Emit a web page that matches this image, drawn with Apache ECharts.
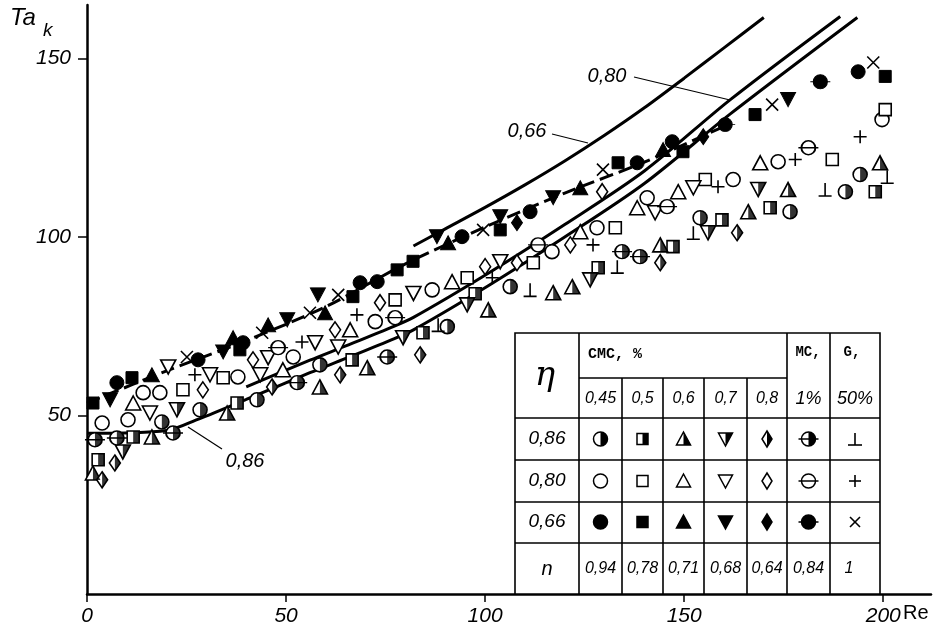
<!DOCTYPE html>
<html>
<head>
<meta charset="utf-8">
<script src="https://cdn.jsdelivr.net/npm/echarts@6/dist/echarts.min.js"></script>
<style>
  html, body { margin: 0; padding: 0; background: #fff; }
  #main { width: 940px; height: 633px; }
</style>
</head>
<body>
<div id="main"></div>
<script>
// axis ticks
var xTicks = [0, 50, 100, 150, 200]
var yTicks = [50, 100, 150]

// eta = 0,66 (filled symbols)
var d66Circle = [[7.5, 59.2], [27.9, 65.6], [39.2, 70.4], [68.6, 87.2], [72.9, 87.5], [94.2, 100.1], [111.3, 107.1], [138.2, 120.8], [147.0, 126.7], [193.7, 146.3]]
var d66Square = [[1.5, 53.5], [11.3, 60.6], [38.4, 68.4], [66.8, 83.3], [77.9, 90.8], [81.9, 93.2], [103.8, 102.0], [133.4, 120.8], [149.7, 123.9], [167.8, 134.3], [200.5, 145.0]]
var d66Tri = [[16.3, 61.4], [36.7, 71.8], [45.5, 75.4], [59.8, 78.8], [90.7, 98.4], [123.9, 113.8], [144.7, 124.5]]
var d66DTri = [[5.8, 54.4], [34.2, 67.8], [50.3, 76.8], [58.0, 83.8], [87.9, 100.1], [103.8, 105.7], [117.1, 111.0], [176.1, 138.5]]
var d66Diam = [[108.0, 104.0], [154.8, 128.1]]
var d66MC = [[160.3, 131.5], [184.2, 143.5]]
var d66G = [[25.1, 66.4], [44.0, 73.2], [56.0, 78.8], [63.1, 83.8], [99.5, 102.0], [129.6, 118.9], [172.1, 137.1], [197.5, 148.9]]

// eta = 0,80 (open symbols)
var d80Circle = [[3.8, 47.9], [10.3, 48.8], [14.1, 56.4], [18.3, 56.4], [37.9, 60.8], [51.8, 66.4], [72.4, 76.3], [86.7, 85.2], [116.8, 95.9], [128.1, 102.6], [140.7, 111.0], [162.3, 116.1], [173.6, 121.1], [199.7, 132.9]]
var d80Square = [[24.1, 57.2], [34.2, 60.6], [77.4, 82.4], [95.5, 88.6], [112.1, 92.8], [132.7, 102.6], [155.3, 116.1], [187.2, 121.7], [200.5, 135.7]]
var d80Tri = [[11.6, 53.5], [49.2, 62.8], [66.1, 74.0], [91.7, 87.5], [123.9, 101.5], [138.2, 108.2], [148.5, 112.7], [169.1, 120.8]]
var d80DTri = [[15.8, 50.7], [20.4, 63.6], [30.9, 61.4], [43.5, 61.4], [45.5, 66.2], [57.3, 70.4], [63.1, 69.2], [82.0, 84.2], [103.8, 93.1], [142.7, 106.8], [152.3, 113.8]]
var d80Diam = [[29.1, 57.2], [41.7, 65.6], [62.3, 74.0], [73.6, 81.6], [100.0, 91.7], [108.0, 92.8], [121.4, 97.8], [129.4, 112.7]]
var d80MC = [[48.0, 69.0], [77.4, 77.4], [113.3, 97.8], [145.7, 108.5], [181.2, 125.0]]
var d80G = [[27.1, 61.4], [54.0, 70.6], [67.8, 78.2], [101.8, 88.6], [127.1, 97.8], [158.5, 114.1], [177.9, 121.7], [194.2, 128.1]]

// eta = 0,86 (half filled symbols)
var d86Circle = [[18.8, 48.2], [28.4, 51.6], [42.7, 54.4], [58.5, 64.2], [90.5, 74.9], [106.3, 86.1], [154.0, 105.4], [176.6, 107.1], [190.5, 112.7], [194.2, 117.5]]
var d86Square = [[2.8, 37.6], [11.6, 44.0], [37.7, 53.5], [66.6, 65.6], [84.4, 73.2], [97.5, 84.1], [128.4, 91.4], [147.2, 97.3], [159.5, 104.8], [171.6, 108.2], [198.0, 112.7]]
var d86Tri = [[1.5, 33.9], [16.3, 44.0], [35.2, 50.7], [58.5, 58.0], [70.4, 63.4], [100.8, 79.6], [117.1, 84.4], [121.9, 86.1], [144.0, 97.8], [166.1, 107.1], [176.1, 113.3], [199.2, 120.8]]
var d86DTri = [[9.0, 39.8], [22.6, 51.6], [79.4, 71.8], [95.5, 81.0], [126.4, 88.0], [156.0, 101.2], [168.6, 113.3]]
var d86Diam = [[3.8, 32.0], [7.0, 36.7], [46.5, 58.0], [63.6, 61.4], [83.7, 67.0], [144.0, 92.8], [163.3, 101.2]]
var d86MC = [[2.0, 43.2], [7.5, 43.7], [21.6, 45.1], [52.8, 59.2], [75.4, 66.4], [134.4, 95.9], [138.9, 94.5]]
var d86G = [[88.2, 75.4], [111.3, 85.2], [133.2, 91.7], [152.3, 101.2], [185.4, 113.3], [201.0, 116.9]]

// curves
var curve66 = [[82, 97.5], [90, 102.3], [100, 108.3], [110, 114.6], [120, 121.3], [130, 128.5], [140, 136.2], [150, 144.5], [160, 153], [170, 161.5]]
var fit66 = [[0, 53.5], [20, 62.5], [40, 71], [60, 80.5], [80, 92.5], [100, 102.8], [120, 112.3], [140, 121], [160, 131]]
var curve80 = [[40, 58], [56, 65.5], [65, 69.5], [76, 74.5], [82, 77.5], [101, 90], [120, 103.5], [140, 118.5], [161.6, 138.5], [189.2, 161.8]]
var curve86 = [[0, 45], [20, 45.8], [28, 49], [40, 54.5], [56, 62], [65, 66], [76, 71], [82, 74], [101, 86.5], [120, 100], [140, 115], [161.6, 134.5], [193.5, 161.5]]

// table texts
var tableCols = ['0,45', '0,5', '0,6', '0,7', '0,8', '1%', '50%']
var tableRows = ['0,86', '0,80', '0,66']
var tableN = ['0,94', '0,78', '0,71', '0,68', '0,64', '0,84', '1']

var ANCHOR = 'M0,0L0.01,0L0,0.01Z'
var SYM = {
  circle: { full: 'path://M10,0A10,10,0,1,1,10,20A10,10,0,1,1,10,0Z', half: 'path://' + ANCHOR + 'M10,0A10,10,0,0,1,10,20Z', size: [14, 14] },
  square: { full: 'path://M0,0L20,0L20,20L0,20Z', half: 'path://' + ANCHOR + 'M10,0L20,0L20,20L10,20Z', size: [12, 12] },
  tri: { full: 'path://M10,0L20,19L0,19Z', half: 'path://' + ANCHOR + 'M10,0L20,19L10,19Z', size: [15, 14] },
  dtri: { full: 'path://M0,0L20,0L10,19Z', half: 'path://' + ANCHOR + 'M10,0L20,0L10,19Z', size: [15, 14] },
  diam: { full: 'path://M6,0L12,9L6,18L0,9Z', half: 'path://' + ANCHOR + 'M6,0L12,9L6,18Z', size: [11, 16] },
  mc: { full: 'path://M0,7L20,7M3,7A7,7,0,1,1,17,7A7,7,0,1,1,3,7Z', half: 'path://' + ANCHOR + 'M20,14L19.99,14L20,13.99ZM10,0A7,7,0,0,1,10,14Z', size: [20, 14] },
  plus: { full: 'path://M6,0L6,12M0,6L12,6', size: [13, 13] },
  cross: { full: 'path://M0,0L10,10M10,0L0,10', size: [12, 12] },
  perp: { full: 'path://M6,0L6,12M0,12L12,12', size: [13, 13] }
}

function scatter(data, kind, mode) {
  var s = SYM[kind]
  var out = []
  out.push({
    type: 'scatter',
    data: data,
    symbol: s.full,
    symbolSize: s.size,
    silent: true,
    z: 5,
    itemStyle: { color: mode === 'filled' ? '#000' : '#fff', borderColor: '#000', borderWidth: mode === 'filled' ? 1 : 1.6, opacity: 1 }
  })
  if (mode === 'half' && s.half) {
    out.push({
      type: 'scatter',
      data: data,
      symbol: s.half,
      symbolSize: s.size,
      silent: true,
      z: 6,
      itemStyle: { color: '#000', borderWidth: 0 }
    })
  }
  return out
}

function curve(data, dashed, width) {
  return {
    type: 'line',
    data: data,
    smooth: 0.3,
    showSymbol: false,
    silent: true,
    z: 3,
    lineStyle: { color: '#000', width: width, type: dashed ? [14, 6] : 'solid' }
  }
}

var series = [
  curve(curve66, false, 3),
  curve(fit66, true, 3),
  curve(curve80, false, 3),
  curve(curve86, false, 3)
]
var kinds = ['circle', 'square', 'tri', 'dtri', 'diam', 'mc']
var sets = [
  { mode: 'filled', g: 'cross', data: [d66Circle, d66Square, d66Tri, d66DTri, d66Diam, d66MC, d66G] },
  { mode: 'open', g: 'plus', data: [d80Circle, d80Square, d80Tri, d80DTri, d80Diam, d80MC, d80G] },
  { mode: 'half', g: 'perp', data: [d86Circle, d86Square, d86Tri, d86DTri, d86Diam, d86MC, d86G] }
]
sets.forEach(function (st) {
  kinds.forEach(function (k, i) {
    series = series.concat(scatter(st.data[i], k, st.mode))
  })
  series = series.concat(scatter(st.data[6], st.g, 'open'))
})

// ---- table (legend) drawn as graphic ----
var FONT_I = 'italic 18px "Liberation Sans Narrow", "Liberation Sans", sans-serif'
var tx = [515, 579, 622, 663, 704, 747, 787, 830, 880]
var ty = [333, 378, 418, 460, 502, 543, 594]
var LW = 1.6

function gl(x1, y1, x2, y2) {
  return { type: 'line', shape: { x1: x1, y1: y1, x2: x2, y2: y2 }, style: { stroke: '#000', lineWidth: LW }, z: 101 }
}
function gt(text, x, y, font) {
  return { type: 'text', x: x, y: y, z: 102, style: { text: text, font: font || FONT_I, fill: '#000', align: 'center', verticalAlign: 'middle', textAlign: 'center', textVerticalAlign: 'middle' } }
}
function tableSym(kind, mode, cx, cy) {
  var fill = mode === 'filled' ? '#000' : '#fff'
  var st = { fill: fill, stroke: '#000', lineWidth: 1.5 }
  var els = []
  function half(pts) { if (mode === 'half') els.push({ type: 'polygon', shape: { points: pts }, style: { fill: '#000' }, z: 104 }) }
  if (kind === 'circle' || kind === 'mc') {
    els.push({ type: 'circle', shape: { cx: cx, cy: cy, r: 7 }, style: st, z: 103 })
    if (mode === 'half') els.push({ type: 'sector', shape: { cx: cx, cy: cy, r: 7, r0: 0, startAngle: -Math.PI / 2, endAngle: Math.PI / 2, clockwise: true }, style: { fill: '#000' }, z: 104 })
    if (kind === 'mc') els.push({ type: 'line', shape: { x1: cx - 10, y1: cy, x2: cx + 10, y2: cy }, style: { stroke: '#000', lineWidth: 1.5 }, z: 105 })
  } else if (kind === 'square') {
    els.push({ type: 'rect', shape: { x: cx - 5.5, y: cy - 5.5, width: 11, height: 11 }, style: st, z: 103 })
    half([[cx, cy - 5.5], [cx + 5.5, cy - 5.5], [cx + 5.5, cy + 5.5], [cx, cy + 5.5]])
  } else if (kind === 'tri') {
    els.push({ type: 'polygon', shape: { points: [[cx, cy - 7], [cx + 7, cy + 6], [cx - 7, cy + 6]] }, style: st, z: 103 })
    half([[cx, cy - 7], [cx + 7, cy + 6], [cx, cy + 6]])
  } else if (kind === 'dtri') {
    els.push({ type: 'polygon', shape: { points: [[cx - 7, cy - 6], [cx + 7, cy - 6], [cx, cy + 7]] }, style: st, z: 103 })
    half([[cx, cy - 6], [cx + 7, cy - 6], [cx, cy + 7]])
  } else if (kind === 'diam') {
    els.push({ type: 'polygon', shape: { points: [[cx, cy - 8], [cx + 5, cy], [cx, cy + 8], [cx - 5, cy]] }, style: st, z: 103 })
    half([[cx, cy - 8], [cx + 5, cy], [cx, cy + 8]])
  } else if (kind === 'plus') {
    els.push(gl(cx, cy - 6, cx, cy + 6), gl(cx - 6, cy, cx + 6, cy))
  } else if (kind === 'cross') {
    els.push(gl(cx - 5, cy - 5, cx + 5, cy + 5), gl(cx + 5, cy - 5, cx - 5, cy + 5))
  } else if (kind === 'perp') {
    els.push(gl(cx, cy - 6, cx, cy + 6), gl(cx - 7, cy + 6, cx + 7, cy + 6))
  }
  return els
}

var graphics = []
graphics.push({ type: 'rect', shape: { x: tx[0], y: ty[0], width: tx[8] - tx[0], height: ty[6] - ty[0] }, style: { fill: '#fff', stroke: '#000', lineWidth: LW }, z: 100 })
graphics.push(gl(tx[1], ty[0], tx[1], ty[6]), gl(tx[6], ty[0], tx[6], ty[6]), gl(tx[7], ty[0], tx[7], ty[6]))
for (var c = 2; c <= 5; c++) graphics.push(gl(tx[c], ty[1], tx[c], ty[6]))
graphics.push(gl(tx[1], ty[1], tx[6], ty[1]))
for (var r = 2; r <= 5; r++) graphics.push(gl(tx[0], ty[r], tx[8], ty[r]))

var colC = []
for (var i = 1; i < 8; i++) colC.push((tx[i] + tx[i + 1]) / 2)
graphics.push(gt('\u03B7', 545, 376, 'italic 34px "DejaVu Serif", serif'))
graphics.push({ type: 'text', x: 588, y: 354, z: 102, style: { text: 'CMC, %', font: 'bold 15px "Liberation Mono", "DejaVu Sans Mono", monospace', fill: '#000', align: 'left', verticalAlign: 'middle', textAlign: 'left', textVerticalAlign: 'middle' } })
graphics.push(gt('MC,', 808, 352, 'bold 14px "Liberation Mono", "DejaVu Sans Mono", monospace'))
graphics.push(gt('G,', 852, 352, 'bold 14px "Liberation Mono", "DejaVu Sans Mono", monospace'))
tableCols.forEach(function (t, i) {
  graphics.push(gt(t, colC[i], 399, i >= 5 ? 'italic 18px "Liberation Sans Narrow", "Liberation Sans", sans-serif' : 'italic 16px "Liberation Sans Narrow", "Liberation Sans", sans-serif'))
})
var rowY = [439, 481, 522]
var rowModes = ['half', 'open', 'filled']
var rowG = ['perp', 'plus', 'cross']
tableRows.forEach(function (t, r) {
  graphics.push(gt(t, 547, rowY[r], 'italic 19px "Liberation Sans Narrow", "Liberation Sans", sans-serif'))
  kinds.forEach(function (k, i) {
    graphics = graphics.concat(tableSym(k, rowModes[r], colC[i], rowY[r]))
  })
  graphics = graphics.concat(tableSym(rowG[r], 'open', colC[6], rowY[r]))
})
graphics.push(gt('n', 547, 569, 'italic 20px "Liberation Sans Narrow", "Liberation Sans", sans-serif'))
tableN.forEach(function (t, i) {
  graphics.push(gt(t, i === 6 ? colC[i] - 6 : colC[i], 569, 'italic 16px "Liberation Sans Narrow", "Liberation Sans", sans-serif'))
})

// curve labels, leaders, axis names
var FONT_L = 'italic 20px "Liberation Sans Narrow", "Liberation Sans", sans-serif'
graphics.push(gt('0,80', 607, 76, FONT_L), { type: 'line', shape: { x1: 634, y1: 77, x2: 730, y2: 100 }, style: { stroke: '#000', lineWidth: 1.2 }, z: 50 })
graphics.push(gt('0,66', 527, 131, FONT_L), { type: 'line', shape: { x1: 552, y1: 134, x2: 588, y2: 143 }, style: { stroke: '#000', lineWidth: 1.2 }, z: 50 })
graphics.push(gt('0,86', 245, 461, FONT_L), { type: 'line', shape: { x1: 222, y1: 449, x2: 188, y2: 427 }, style: { stroke: '#000', lineWidth: 1.2 }, z: 50 })
graphics.push({ type: 'text', x: 10, y: 18, z: 50, style: { text: 'Ta', font: 'italic 24px "Liberation Sans", sans-serif', fill: '#000', verticalAlign: 'middle', textVerticalAlign: 'middle' } })
graphics.push({ type: 'text', x: 43, y: 31, z: 50, style: { text: 'k', font: 'italic 19px "Liberation Sans", sans-serif', fill: '#000', verticalAlign: 'middle', textVerticalAlign: 'middle' } })
graphics.push({ type: 'text', x: 903, y: 613, z: 50, style: { text: 'Re', font: '20px "Liberation Sans Narrow", "Liberation Sans", sans-serif', fill: '#000', verticalAlign: 'middle', textVerticalAlign: 'middle' } })

var chart = echarts.init(document.getElementById('main'), null, { renderer: 'canvas' })
chart.setOption({
  animation: false,
  backgroundColor: '#fff',
  grid: { left: 87, top: 5, width: 844, height: 589, containLabel: false },
  xAxis: {
    type: 'value', min: 0, max: 212, interval: 50,
    splitLine: { show: false },
    axisLine: { lineStyle: { color: '#000', width: 2.5 } },
    axisTick: { length: 8, lineStyle: { color: '#000', width: 1.5 } },
    axisLabel: {
      margin: 12, color: '#000', fontSize: 21, fontStyle: 'italic', fontFamily: '"Liberation Sans Narrow", "Liberation Sans", sans-serif',
      showMaxLabel: false,
      formatter: function (v) { return xTicks.indexOf(v) >= 0 ? String(v) : '' }
    }
  },
  yAxis: {
    type: 'value', min: 0, max: 165, interval: 50,
    splitLine: { show: false },
    axisLine: { lineStyle: { color: '#000', width: 2.5 } },
    axisTick: { length: 9, lineStyle: { color: '#000', width: 1.5 } },
    axisLabel: {
      margin: 16, color: '#000', fontSize: 21, fontStyle: 'italic', fontFamily: '"Liberation Sans Narrow", "Liberation Sans", sans-serif',
      showMinLabel: false, showMaxLabel: false,
      formatter: function (v) { return yTicks.indexOf(v) >= 0 ? String(v) : '' }
    }
  },
  series: series,
  graphic: graphics
})
</script>
</body>
</html>
